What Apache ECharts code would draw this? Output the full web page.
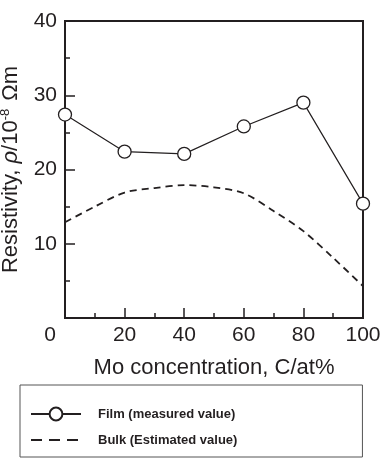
<!DOCTYPE html>
<html>
<head>
<meta charset="utf-8">
<script src="https://cdn.jsdelivr.net/npm/echarts@6/dist/echarts.min.js"></script>
<style>
  html, body { margin: 0; padding: 0; background: #fff; }
  #chart { width: 380px; height: 460px; }
</style>
</head>
<body>
<div id="chart"></div>
<script>
  "use strict";

  // Mo concentration (at%)
  var filmX = [0, 20, 40, 60, 80, 100];
  // Film (measured value), 10^-8 ohm m
  var filmY = [27.4, 22.4, 22.1, 25.8, 29.0, 15.4];
  // Bulk (estimated value) curve, read every 10 at%
  var bulkX = [0, 10, 20, 30, 40, 50, 60, 70, 80, 90, 100];
  var bulkY = [12.9, 15.0, 16.9, 17.5, 17.9, 17.6, 16.8, 14.4, 11.7, 8.1, 4.3];

  var seriesNames = ["Film (measured value)", "Bulk (Estimated value)"];
  var xTicks = [0, 20, 40, 60, 80, 100];
  var yTicks = [10, 20, 30, 40];

  var ink = "#231f20";
  var font = "Liberation Sans, Arial, sans-serif";

  function pairs(xs, ys) {
    var out = [];
    for (var i = 0; i < xs.length; i++) {
      out.push([xs[i], ys[i]]);
    }
    return out;
  }

  var chart = echarts.init(document.getElementById("chart"));

  var option = {
    animation: false,
    backgroundColor: "#fff",
    grid: {
      left: 65, right: 17, top: 21, bottom: 142,
      show: true,
      borderColor: ink,
      borderWidth: 2,
      containLabel: false,
      outerBoundsMode: "none"
    },
    legend: {
      orient: "vertical",
      left: 20,
      top: 385,
      itemWidth: 50,
      itemHeight: 16,
      itemGap: 10,
      padding: [21, 125, 9, 10],
      borderColor: "#555",
      borderWidth: 1,
      data: [
        { name: seriesNames[0] },
        { name: seriesNames[1], itemStyle: { opacity: 0 }, lineStyle: { type: [11, 7], width: 2 } }
      ],
      textStyle: {
        color: ink,
        fontFamily: font,
        fontWeight: "bold",
        fontSize: 13,
        lineHeight: 16,
        padding: [0, 0, 0, 12]
      }
    },
    xAxis: {
      type: "value",
      min: 0,
      max: 100,
      interval: 20,
      name: "Mo concentration, C/at%",
      nameLocation: "middle",
      nameGap: 39,
      nameTextStyle: { color: ink, fontFamily: font, fontSize: 22, verticalAlign: "top" },
      axisLine: { show: true, lineStyle: { color: ink, width: 2 } },
      axisTick: { show: true, inside: true, length: 10, lineStyle: { color: ink, width: 1.5 } },
      minorTick: { show: true, splitNumber: 2, length: 5, lineStyle: { color: ink, width: 1.5 } },
      splitLine: { show: false },
      axisLabel: {
        color: ink,
        fontFamily: font,
        fontSize: 21,
        margin: 7,
        formatter: function (v) {
          if (xTicks.indexOf(v) < 0) return "";
          return v === 0 ? "{z|0}" : String(v);
        },
        rich: {
          z: { fontSize: 21, fontFamily: font, color: ink, padding: [0, 30, 0, 0] }
        }
      }
    },
    yAxis: {
      type: "value",
      min: 0,
      max: 40,
      interval: 10,
      name: "{a|Resistivity, }{i|\u03c1}{a|/10}{s|-8}{a| \u03a9m}",
      nameLocation: "middle",
      nameRotate: 90,
      nameGap: 43,
      nameTextStyle: {
        color: ink,
        fontFamily: font,
        fontSize: 22,
        rich: {
          a: { fontSize: 22, fontFamily: font, color: ink },
          i: { fontSize: 22, fontFamily: font, color: ink, fontStyle: "italic" },
          s: { fontSize: 13, fontFamily: font, color: ink, padding: [0, 2, 10, 0] }
        }
      },
      axisLine: { show: true, lineStyle: { color: ink, width: 2 } },
      axisTick: { show: true, inside: true, length: 10, lineStyle: { color: ink, width: 1.5 } },
      minorTick: { show: true, splitNumber: 2, length: 5, lineStyle: { color: ink, width: 1.5 } },
      splitLine: { show: false },
      axisLabel: {
        color: ink,
        fontFamily: font,
        fontSize: 21,
        margin: 8,
        formatter: function (v) {
          return yTicks.indexOf(v) < 0 ? "" : String(v);
        }
      }
    },
    series: [
      {
        name: seriesNames[0],
        type: "line",
        data: pairs(filmX, filmY),
        symbol: "circle",
        symbolSize: 13,
        z: 3,
        lineStyle: { color: ink, width: 1.2 },
        itemStyle: { color: "#fff", borderColor: ink, borderWidth: 1.3 }
      },
      {
        name: seriesNames[1],
        type: "line",
        data: pairs(bulkX, bulkY),
        smooth: 0.3,
        symbol: "none",
        z: 2,
        lineStyle: { color: ink, width: 1.8, type: [7, 5] },
        itemStyle: { color: ink }
      }
    ]
  };

  chart.setOption(option);
</script>
</body>
</html>
